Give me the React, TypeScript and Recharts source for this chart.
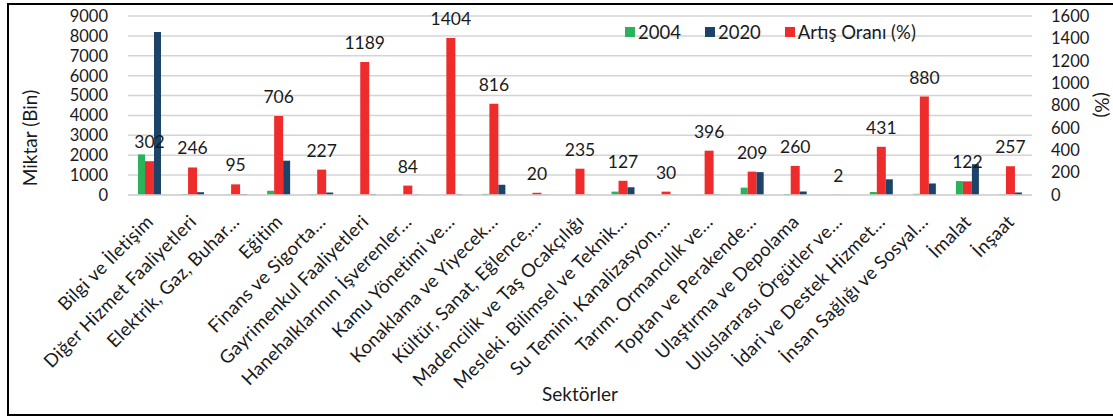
import React from 'react';
import { BarChart, Bar, XAxis, YAxis, CartesianGrid, Legend, LabelList } from 'recharts';

const categories = [
  'Bilgi ve İletişim',
  'Diğer Hizmet Faaliyetleri',
  'Elektrik, Gaz, Buhar…',
  'Eğitim',
  'Finans ve Sigorta…',
  'Gayrimenkul Faaliyetleri',
  'Hanehalklarının İşverenler…',
  'Kamu Yönetimi ve…',
  'Konaklama ve Yiyecek…',
  'Kültür, Sanat, Eğlence,…',
  'Madencilik ve Taş Ocakçılığı',
  'Mesleki. Bilimsel ve Teknik…',
  'Su Temini, Kanalizasyon,…',
  'Tarım. Ormancılık ve…',
  'Toptan ve Perakende…',
  'Ulaştırma ve Depolama',
  'Uluslararası Örgütler ve…',
  'İdari ve Destek Hizmet…',
  'İnsan Sağlığı ve Sosyal…',
  'İmalat',
  'İnşaat',
];

const values2004 = [2040, 40, 20, 214, 38, 3, 10, 2, 56, 10, 5, 170, 10, 5, 370, 49, 1, 150, 59, 700, 35];
const values2020 = [8200, 140, 39, 1725, 125, 39, 18, 30, 515, 12, 17, 390, 13, 25, 1150, 176, 1, 790, 580, 1550, 126];
const increaseRates = [302, 246, 95, 706, 227, 1189, 84, 1404, 816, 20, 235, 127, 30, 396, 209, 260, 2, 431, 880, 122, 257];

const leftTicks = [0, 1000, 2000, 3000, 4000, 5000, 6000, 7000, 8000, 9000];
const rightTicks = [0, 200, 400, 600, 800, 1000, 1200, 1400, 1600];

const GREEN = '#2bb35c';
const NAVY = '#1b4468';
const RED = '#ee2c2c';
const TEXT = '#1a1a1a';

const data = categories.map((name, i) => ({
  name,
  v2004: values2004[i],
  v2020: values2020[i],
  rate: increaseRates[i],
}));

const legendItems = [
  { label: '2004', color: GREEN },
  { label: '2020', color: NAVY },
  { label: 'Artış Oranı (%)', color: RED },
];

const XTick = (props: any) => {
  const { x, y, payload } = props;
  return (
    <g transform={`translate(${x + 5},${y + 20})`}>
      <text textAnchor="end" transform="rotate(-45)" fontSize={18.5} letterSpacing={0.3} fill={TEXT}>
        {payload.value}
      </text>
    </g>
  );
};

const LegendContent = () => (
  <div style={{ display: 'flex', alignItems: 'center', height: 22, fontSize: 18.5, color: TEXT, whiteSpace: 'nowrap' }}>
    {legendItems.map((it) => (
      <div key={it.label} style={{ display: 'flex', alignItems: 'center', marginRight: 24 }}>
        <span style={{ display: 'inline-block', width: 10, height: 10, background: it.color, marginRight: 3 }} />
        <span>{it.label}</span>
      </div>
    ))}
  </div>
);

export default function App() {
  return (
    <div
      style={{
        position: 'absolute',
        left: 0,
        top: 0,
        width: 1113,
        height: 416,
        overflow: 'hidden',
        background: '#fff',
        fontFamily: 'Lato, "Open Sans", sans-serif',
      }}
    >
      <div
        style={{
          position: 'absolute',
          left: 7,
          top: 3,
          width: 1130,
          height: 413,
          border: '2px solid #000',
          boxSizing: 'border-box',
        }}
      />
      <div style={{ position: 'absolute', left: 0, top: 0 }}>
        <BarChart
          width={1113}
          height={416}
          data={data}
          margin={{ top: 16, right: 0, bottom: 0, left: 0 }}
          barGap={0}
          barCategoryGap="24%"
        >
          <CartesianGrid yAxisId="left" vertical={false} stroke="#d4d4d4" strokeWidth={1.5} />
          <XAxis
            dataKey="name"
            interval={0}
            height={221}
            tickLine={false}
            axisLine={{ stroke: '#d4d4d4', strokeWidth: 1.5 }}
            tick={<XTick />}
            label={{ value: 'Sektörler', position: 'insideBottom', offset: 15, fontSize: 19, fill: TEXT }}
          />
          <YAxis
            yAxisId="left"
            orientation="left"
            width={128}
            domain={[0, 9000]}
            ticks={leftTicks}
            interval={0}
            tickLine={false}
            axisLine={false}
            tickMargin={14}
            tick={{ fontSize: 16.5, fill: TEXT }}
            label={{
              content: () => (
                <text
                  x={29}
                  y={138}
                  transform="rotate(-90, 29, 138)"
                  textAnchor="middle"
                  dominantBaseline="central"
                  fontSize={19}
                  fill={TEXT}
                >
                  Miktar (Bin)
                </text>
              ),
            }}
          />
          <YAxis
            yAxisId="right"
            orientation="right"
            width={81}
            domain={[0, 1600]}
            ticks={rightTicks}
            interval={0}
            tickLine={false}
            axisLine={false}
            tickMargin={13}
            tick={{ fontSize: 16.5, fill: TEXT }}
            label={{
              content: () => (
                <text
                  x={1102}
                  y={105}
                  transform="rotate(90, 1102, 105)"
                  textAnchor="middle"
                  dominantBaseline="central"
                  fontSize={19}
                  fill={TEXT}
                >
                  (%)
                </text>
              ),
            }}
          />
          <Legend
            verticalAlign="middle"
            align="center"
            layout="horizontal"
            content={<LegendContent />}
            wrapperStyle={{ top: 21, left: 625, width: 340, height: 22 }}
          />
          <Bar yAxisId="left" dataKey="v2004" name="2004" fill={GREEN} barSize={7} isAnimationActive={false} />
          <Bar yAxisId="right" dataKey="rate" name="Artış Oranı (%)" fill={RED} barSize={9} isAnimationActive={false}>
            <LabelList dataKey="rate" position="top" offset={13} fontSize={17.5} fill={TEXT} />
          </Bar>
          <Bar yAxisId="left" dataKey="v2020" name="2020" fill={NAVY} barSize={7} isAnimationActive={false} />
        </BarChart>
      </div>
    </div>
  );
}
